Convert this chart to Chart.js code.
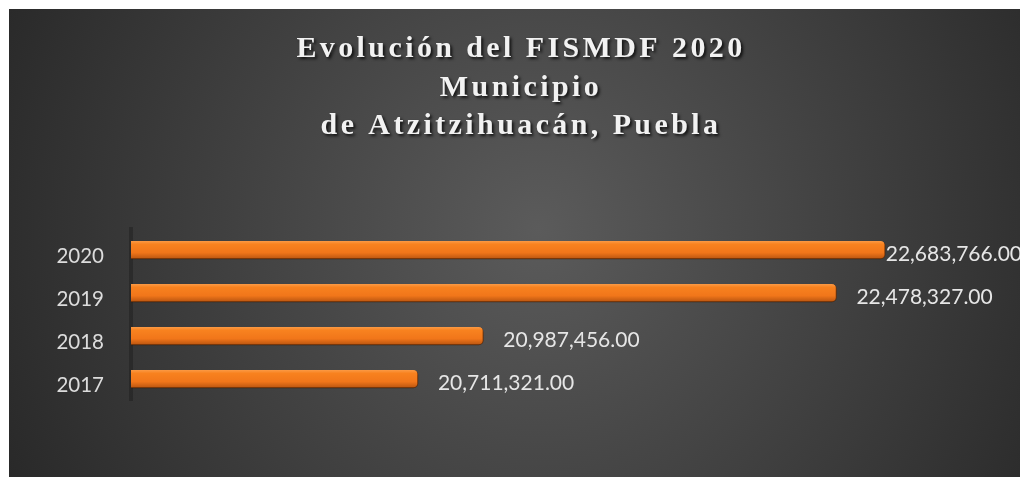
<!DOCTYPE html>
<html>
<head>
<meta charset="utf-8">
<script src="https://cdn.jsdelivr.net/npm/chart.js@4/dist/chart.umd.min.js"></script>
<style>
  html, body { margin: 0; padding: 0; background: #fff; }
  #wrap { position: absolute; left: 9px; top: 9px; width: 1011px; height: 468px; }
</style>
</head>
<body>
<div id="wrap"><canvas id="myChart" width="1011" height="468"></canvas></div>
<script>
// datos de la grafica
const anios = ['2017', '2018', '2019', '2020'];
const montos = [20711321, 20987456, 22478327, 22683766];
const titulo = ['Evolución del FISMDF 2020', 'Municipio', 'de Atzitzihuacán, Puebla'];

const ctx = document.getElementById('myChart').getContext('2d');

// fondo con degradado radial
const fondo = {
    id: 'fondo',
    beforeDraw(chart) {
        const c = chart.ctx;
        const g = c.createRadialGradient(530, 220, 0, 530, 220, 620);
        g.addColorStop(0, '#5b5b5b');
        g.addColorStop(1, '#262626');
        c.save();
        c.fillStyle = g;
        c.fillRect(0, 0, chart.width, chart.height);
        c.restore();
    }
};

// titulo en tres lineas
const tituloPlugin = {
    id: 'tituloPlugin',
    afterDraw(chart) {
        const c = chart.ctx;
        const ys = [40, 79, 117];
        c.save();
        c.font = 'bold 30px "Liberation Serif"';
        c.letterSpacing = '3.4px';
        c.textAlign = 'center';
        c.textBaseline = 'middle';
        c.fillStyle = '#f2f2f2';
        c.shadowColor = 'rgba(0,0,0,0.75)';
        c.shadowBlur = 3;
        c.shadowOffsetX = 2;
        c.shadowOffsetY = 2;
        titulo.forEach((t, i) => c.fillText(t, 512, ys[i]));
        c.restore();
    }
};

// sombra de barras y etiquetas de datos
const barras = {
    id: 'barras',
    beforeDatasetsDraw(chart) {
        const c = chart.ctx;
        c.save();
        c.shadowColor = 'rgba(0,0,0,0.55)';
        c.shadowBlur = 4;
        c.shadowOffsetX = 1;
        c.shadowOffsetY = 2;
    },
    afterDatasetsDraw(chart) {
        const c = chart.ctx;
        c.restore();
        c.save();
        c.font = '21px Lato';
        c.fillStyle = '#e6e6e6';
        c.textBaseline = 'middle';
        c.textAlign = 'left';
        const meta = chart.getDatasetMeta(0);
        meta.data.forEach((bar, i) => {
            const txt = montos[i].toLocaleString('en-US', { minimumFractionDigits: 2, maximumFractionDigits: 2 });
            const w = c.measureText(txt).width;
            let x = bar.x + 20;
            if (x + w > chart.width) x = chart.width + 2 - w;
            c.fillText(txt, x, bar.y + 4);
        });
        c.restore();
    }
};

function colorBarra(context) {
    const chart = context.chart;
    const y = chart.scales.y;
    if (!y || context.dataIndex === undefined) return '#f47a1a';
    const cy = y.getPixelForValue(context.dataIndex);
    if (!isFinite(cy)) return '#f47a1a';
    const g = chart.ctx.createLinearGradient(0, cy - 9, 0, cy + 9);
    g.addColorStop(0, '#fb9a45');
    g.addColorStop(0.18, '#f8821f');
    g.addColorStop(0.65, '#f1761a');
    g.addColorStop(1, '#b85410');
    return g;
}

const myChart = new Chart(ctx, {
    type: 'bar',
    data: {
        labels: anios,
        datasets: [{
            data: montos,
            backgroundColor: colorBarra,
            borderColor: '#a84c0e',
            borderWidth: { top: 0, right: 1, bottom: 1, left: 0 },
            borderRadius: 5,
            barThickness: 18
        }]
    },
    options: {
        indexAxis: 'y',
        responsive: false,
        animation: false,
        layout: {
            padding: { top: 219.5, right: 60, bottom: 76.5, left: 0 }
        },
        plugins: {
            legend: { display: false },
            title: { display: false },
            tooltip: { enabled: false }
        },
        scales: {
            x: {
                display: false,
                min: 19500000,
                max: 23000000
            },
            y: {
                reverse: true,
                afterFit(scale) { scale.width = 122; },
                grid: { display: false },
                border: { display: true, color: 'rgba(0,0,0,0.22)', width: 4 },
                ticks: {
                    color: '#dcdcdc',
                    font: { family: 'Lato', size: 20.5 },
                    padding: 19,
                    labelOffset: 6
                }
            }
        }
    },
    plugins: [fondo, tituloPlugin, barras]
});
</script>
</body>
</html>
